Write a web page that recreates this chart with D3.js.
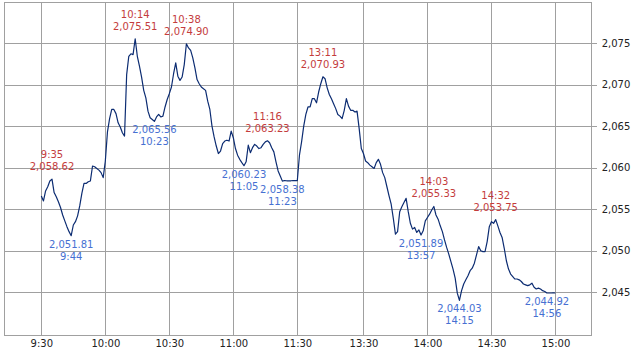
<!DOCTYPE html>
<meta charset="utf-8">
<head>
<style>
 body { margin: 0; background: #fff; }
 svg text { font-family: "DejaVu Sans", sans-serif; font-size: 10px; }
 .grid line { stroke: #a0a0a0; stroke-width: 1px; shape-rendering: crispEdges; }
 .frame { fill: none; stroke: #a0a0a0; stroke-width: 1px; shape-rendering: crispEdges; }
 .axis text { fill: #222; }
 .price { fill: none; stroke: #0c2c72; stroke-width: 1.2px; stroke-linejoin: round; }
 .hi text { fill: #c43c3c; }
 .lo text { fill: #4670d2; }
</style>
</head>
<body>
<svg width="636" height="351"></svg>
<script src="https://cdn.jsdelivr.net/npm/d3@7"></script>
<script>
  // one value per minute slot, 9:30 -> 11:30, then 13:00 -> 15:00
  var prices = [
    2056.6, 2056.0, 2057.2, 2057.7, 2058.4, 2058.62, 2057.0, 2056.5, 2055.9, 2055.2,
    2054.3, 2053.6, 2052.9, 2052.3, 2051.81, 2053.1, 2053.5, 2054.2, 2055.4, 2056.9,
    2058.1, 2058.1, 2058.3, 2058.4, 2060.2, 2060.1, 2059.9, 2059.7, 2059.4, 2058.8,
    2060.8, 2064.3, 2065.9, 2067.0, 2067.0, 2066.5, 2065.4, 2064.9, 2064.2, 2063.8,
    2071.2, 2073.4, 2073.7, 2073.6, 2075.51, 2073.4, 2072.2, 2070.9, 2069.3, 2068.4,
    2066.8, 2066.0, 2065.8, 2065.56, 2066.1, 2066.4, 2066.1, 2066.2, 2067.3, 2068.2,
    2068.9, 2069.7, 2071.3, 2072.6, 2071.0, 2070.5, 2070.9, 2072.4, 2074.90, 2074.4,
    2074.1, 2073.2, 2072.0, 2070.6, 2070.1, 2069.7, 2069.5, 2069.3, 2068.0, 2067.0,
    2065.0, 2063.7, 2062.6, 2061.7, 2062.0, 2062.9, 2063.2, 2063.3, 2063.2, 2064.4,
    2063.6, 2062.3, 2061.5, 2061.0, 2060.6, 2060.23, 2060.7, 2062.7, 2061.8, 2062.4,
    2062.8, 2062.6, 2062.3, 2062.4, 2062.8, 2063.1, 2063.23, 2063.0, 2062.4, 2061.9,
    2060.7, 2059.6, 2059.0, 2058.38, 2058.45, 2058.42, 2058.40, 2058.42, 2058.45, 2058.43,
    2058.45, 2061.5, 2063.1, 2065.0, 2066.4, 2067.3, 2067.3, 2068.3, 2068.3, 2067.8,
    2069.1, 2070.1, 2070.93, 2070.7, 2069.6, 2068.8, 2068.3, 2067.7, 2067.1, 2066.4,
    2066.2, 2065.9, 2066.9, 2068.3, 2067.4, 2066.9, 2066.9, 2066.7, 2066.8, 2064.7,
    2062.3, 2061.7, 2060.8, 2060.6, 2060.3, 2060.1, 2059.9, 2060.6, 2061.0, 2060.4,
    2059.4, 2058.8, 2057.7, 2056.6, 2055.6, 2053.9, 2052.0, 2052.3, 2054.7, 2055.3,
    2055.8, 2056.3, 2054.7, 2053.3, 2052.6, 2052.8, 2052.2, 2052.5, 2051.89, 2052.4,
    2053.6, 2054.0, 2054.4, 2054.9, 2055.33, 2054.3, 2053.8, 2053.0, 2052.3, 2051.3,
    2050.4, 2049.6, 2048.7, 2047.8, 2046.7, 2044.9, 2044.03, 2045.2, 2046.0, 2046.5,
    2047.0, 2047.6, 2047.9, 2048.5, 2049.5, 2050.5, 2050.0, 2049.9, 2049.9, 2051.1,
    2052.9, 2053.5, 2053.3, 2053.75, 2053.0, 2052.2, 2051.6, 2050.3, 2048.8, 2047.8,
    2047.2, 2046.9, 2046.6, 2046.6, 2046.5, 2046.3, 2046.0, 2045.9, 2045.8, 2045.9,
    2046.1, 2045.6, 2045.4, 2045.5, 2045.4, 2045.2, 2045.1, 2044.92, 2044.92, 2044.92,
    2044.93, 2044.92
  ];

  var xTickLabels = ["9:30", "10:00", "10:30", "11:00", "11:30", "13:30", "14:00", "14:30", "15:00"];
  var yTicks = [2045, 2050, 2055, 2060, 2065, 2070, 2075];

  var highTimes  = ["9:35", "10:14", "10:38", "11:16", "13:11", "14:03", "14:32"];
  var highValues = [2058.62, 2075.51, 2074.90, 2063.23, 2070.93, 2055.33, 2053.75];
  var lowTimes   = ["9:44", "10:23", "11:05", "11:23", "13:57", "14:15", "14:56"];
  var lowValues  = [2051.81, 2065.56, 2060.23, 2058.38, 2051.89, 2044.03, 2044.92];

  // minute slot of a clock time (lunch break squeezed out, 13:00 follows 11:30)
  function slot(t) {
    var p = t.split(":"), m = (+p[0]) * 60 + (+p[1]) - 570;
    return m > 120 ? m - 89 : m;
  }

  var svg = d3.select("svg");
  var plot = { left: 4, right: 591.7, top: 2, bottom: 335.7 };

  var x = d3.scaleLinear().domain([-17.5, 258]).range([plot.left, plot.right]);
  var y = d3.scaleLinear().domain([2039.78, 2079.93]).range([plot.bottom, plot.top]);
  var fmt = d3.format(",.2f");

  var xAxis = d3.axisBottom(x)
      .tickValues(xTickLabels.map(slot))
      .tickFormat(function(d, i) { return xTickLabels[i]; })
      .tickSize(-(plot.bottom - plot.top)).tickPadding(4);
  svg.append("g").attr("class", "grid axis")
      .attr("transform", "translate(0," + plot.bottom + ")")
      .call(xAxis);

  var yAxis = d3.axisRight(y)
      .tickValues(yTicks)
      .tickFormat(d3.format(","))
      .tickSize(-(plot.right - plot.left)).tickPadding(10);
  var gy = svg.append("g").attr("class", "grid axis")
      .attr("transform", "translate(" + plot.right + ",0)")
      .call(yAxis);
  gy.selectAll(".tick line").attr("x1", 5);

  svg.selectAll(".grid .domain").remove();
  svg.selectAll(".grid text").attr("font-size", 10).attr("font-family", "DejaVu Sans");

  svg.append("rect").attr("class", "frame")
      .attr("x", plot.left).attr("y", plot.top)
      .attr("width", plot.right - plot.left).attr("height", plot.bottom - plot.top);

  var line = d3.line()
      .x(function(d, i) { return x(i); })
      .y(function(d) { return y(d); });
  svg.append("path").attr("class", "price").datum(prices).attr("d", line);

  var hi = svg.append("g").attr("class", "hi").selectAll("g")
      .data(highTimes).join("g")
      .attr("transform", function(d, i) {
        return "translate(" + x(slot(d)) + "," + y(highValues[i]) + ")";
      });
  hi.append("text").attr("text-anchor", "middle").attr("y", -21).text(function(d) { return d; });
  hi.append("text").attr("text-anchor", "middle").attr("y", -9)
      .text(function(d, i) { return fmt(highValues[i]); });

  var lo = svg.append("g").attr("class", "lo").selectAll("g")
      .data(lowTimes).join("g")
      .attr("transform", function(d, i) {
        return "translate(" + x(slot(d)) + "," + y(lowValues[i]) + ")";
      });
  lo.append("text").attr("text-anchor", "middle").attr("y", 12)
      .text(function(d, i) { return fmt(lowValues[i]); });
  lo.append("text").attr("text-anchor", "middle").attr("y", 24).text(function(d) { return d; });
</script>
</body>
</html>
